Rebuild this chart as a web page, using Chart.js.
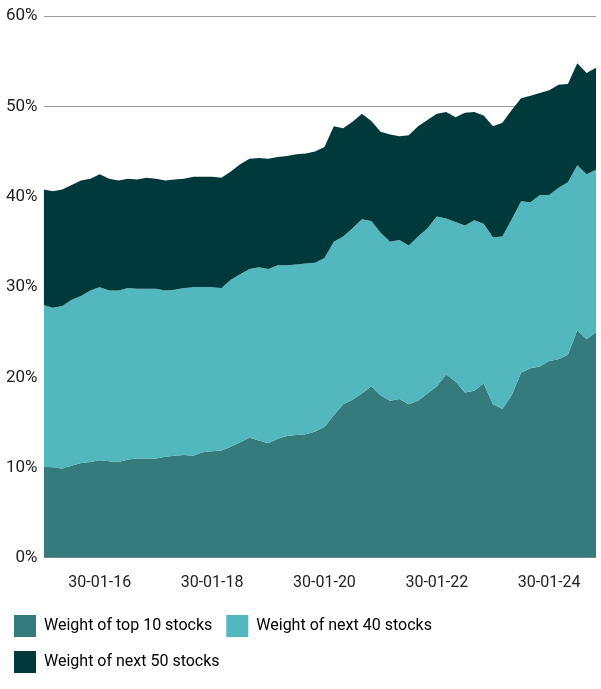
<!DOCTYPE html>
<html><head><meta charset="utf-8">
<script src="https://cdn.jsdelivr.net/npm/chart.js@4"></script>
<style>html,body{margin:0;padding:0;background:#fff}#w{width:601px;height:689px}</style>
</head><body><div id="w"><canvas id="c"></canvas></div>
<script>
const labels=[];
for(let y=15;y<=24;y++){for(let m=1;m<=11;m+=2){labels.push('30-'+String(m).padStart(2,'0')+'-'+y);}}
const top10=[10.1,10.0,9.9,10.2,10.5,10.6,10.8,10.7,10.6,10.9,11.0,11.0,11.0,11.2,11.3,11.4,11.3,11.7,11.8,11.9,12.3,12.8,13.3,13.0,12.7,13.2,13.5,13.6,13.7,14.0,14.5,15.8,17.0,17.5,18.2,19.0,18.0,17.4,17.6,17.0,17.4,18.2,19.0,20.3,19.5,18.3,18.5,19.3,17.0,16.5,18.0,20.5,21.0,21.2,21.8,22.0,22.5,25.2,24.2,25.0];
const top50=[28.0,27.7,27.9,28.6,29.0,29.6,30.0,29.6,29.6,29.9,29.8,29.8,29.8,29.6,29.7,29.9,30.0,30.0,30.0,29.9,30.8,31.4,32.0,32.2,32.0,32.4,32.4,32.5,32.6,32.7,33.2,35.0,35.6,36.5,37.5,37.3,36.0,35.0,35.2,34.6,35.6,36.5,37.8,37.6,37.2,36.8,37.4,37.0,35.5,35.6,37.5,39.5,39.4,40.2,40.2,41.0,41.6,43.5,42.5,43.0];
const top100=[40.8,40.6,40.8,41.3,41.8,42.0,42.5,42.0,41.8,42.0,41.9,42.1,42.0,41.8,41.9,42.0,42.2,42.2,42.2,42.1,42.8,43.6,44.2,44.3,44.2,44.4,44.5,44.7,44.8,45.0,45.5,47.8,47.6,48.3,49.2,48.4,47.2,46.9,46.7,46.8,47.8,48.5,49.2,49.4,48.8,49.3,49.4,49.0,47.8,48.2,49.6,50.9,51.2,51.5,51.8,52.4,52.5,54.8,53.7,54.3];
const yTicks=[0,10,20,30,40,50,60];
const ds=(l,d,c,f,o)=>({label:l,data:d,backgroundColor:c,borderColor:c,borderWidth:0,pointRadius:0,fill:f,tension:0,order:o});
new Chart(document.getElementById('c'),{type:'line',
data:{labels,datasets:[ds('Weight of top 10 stocks',top10,'#357a7c','origin',3),ds('Weight of next 40 stocks',top50,'#52b8bd','-1',2),ds('Weight of next 50 stocks',top100,'#00393b','-1',1)]},
options:{responsive:true,maintainAspectRatio:false,animation:false,
layout:{padding:{left:0,right:5,top:8,bottom:6}},
plugins:{tooltip:{enabled:false},legend:{position:'bottom',align:'start',
labels:{boxWidth:22,boxHeight:22,padding:14,color:'#222',font:{family:'Roboto',size:16},
generateLabels:ch=>ch.data.datasets.map((d,i)=>({text:d.label,fillStyle:d.backgroundColor,strokeStyle:d.backgroundColor,lineWidth:0,datasetIndex:i}))}}},
scales:{x:{offset:false,grid:{display:false},border:{display:false},
ticks:{autoSkip:false,maxRotation:0,color:'#222',font:{family:'Roboto',size:16},padding:8,
callback:function(v,i){const l=labels[i];return (l.startsWith('30-01-')&&parseInt(l.slice(6))%2===0)?l:null;}}},
y:{min:0,max:60,afterBuildTicks:a=>{a.ticks=yTicks.map(v=>({value:v}));},
grid:{color:'#9a9a9a',lineWidth:1,drawTicks:false},border:{display:false},
ticks:{color:'#222',font:{family:'Roboto',size:17},padding:6,callback:v=>v+'%'}}}}});
</script></body></html>
